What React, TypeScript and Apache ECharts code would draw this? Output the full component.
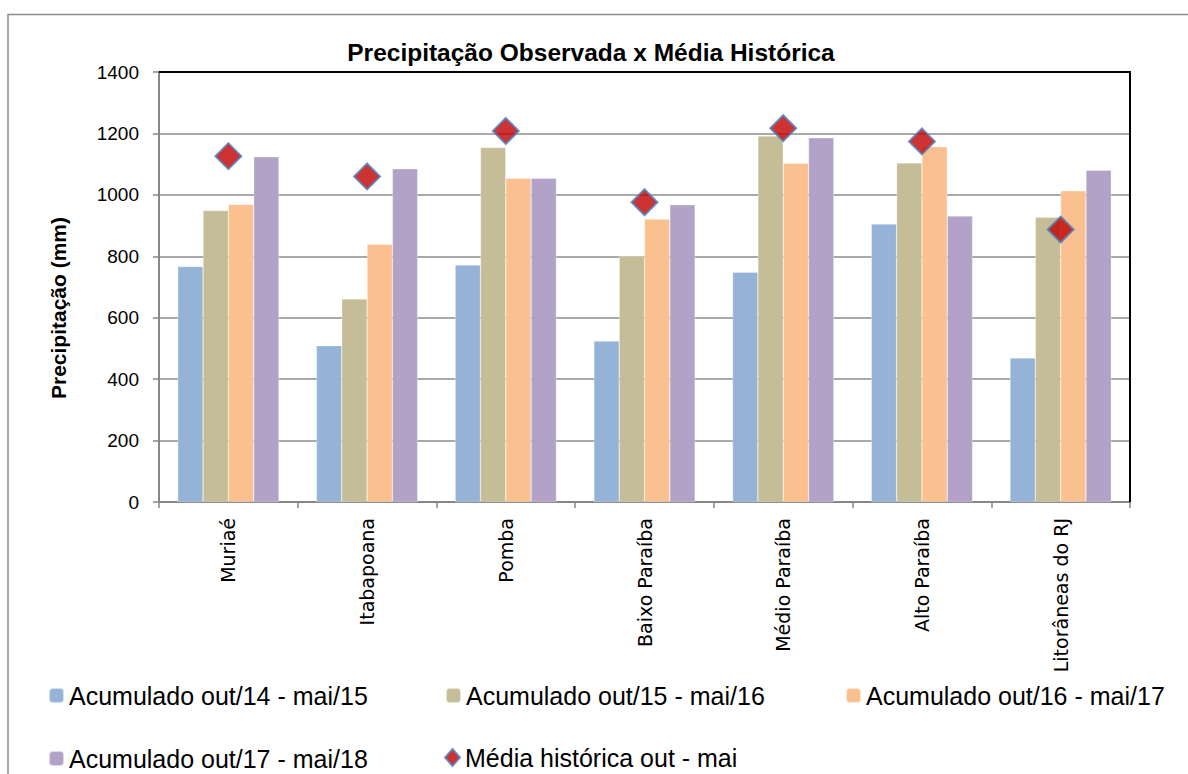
import React, { useEffect, useRef } from "react";
import * as echarts from "echarts";

const categories = [
  "Muriaé",
  "Itabapoana",
  "Pomba",
  "Baixo Paraíba",
  "Médio Paraíba",
  "Alto Paraíba",
  "Litorâneas do RJ",
];
const acum1415 = [767, 509, 772, 524, 748, 905, 469];
const acum1516 = [949, 661, 1154, 800, 1192, 1104, 927];
const acum1617 = [969, 839, 1054, 921, 1103, 1157, 1013];
const acum1718 = [1124, 1085, 1054, 968, 1186, 931, 1080];
const mediaHistorica = [1126, 1060, 1208, 976, 1217, 1174, 887];

const seriesNames = [
  "Acumulado out/14 - mai/15",
  "Acumulado out/15 - mai/16",
  "Acumulado out/16 - mai/17",
  "Acumulado out/17 - mai/18",
  "Média histórica out - mai",
];
const barColors = ["#95B3D7", "#C4BD97", "#FAC090", "#B3A2C7"];
const titleText = "Precipitação Observada x Média Histórica";
const yAxisTitle = "Precipitação (mm)";

const SANS = "'Liberation Sans', Arial, sans-serif";

export default function App() {
  const ref = useRef<HTMLDivElement>(null);
  useEffect(() => {
    const chart = echarts.init(ref.current as HTMLDivElement, null, { renderer: "svg" });
    const gridLeft = 159;
    const gridTop = 72;
    const gridRight = 1130;
    const gridBottom = 502;
    const barData = [acum1415, acum1516, acum1617, acum1718];

    const legendPos = [
      { left: 48, top: 683 },
      { left: 445, top: 683 },
      { left: 845, top: 683 },
      { left: 48, top: 746 },
      { left: 444, top: 745 },
    ];

    chart.setOption({
      animation: false,
      backgroundColor: "#ffffff",
      textStyle: { fontFamily: SANS, color: "#000" },
      grid: {
        left: gridLeft,
        top: gridTop,
        width: gridRight - gridLeft,
        height: gridBottom - gridTop,
        containLabel: false,
      },
      xAxis: {
        type: "category",
        data: categories,
        boundaryGap: true,
        axisLine: { lineStyle: { color: "#868686", width: 2 } },
        axisTick: { show: true, length: 6, lineStyle: { color: "#868686", width: 1.5 } },
        axisLabel: {
          rotate: 90,
          margin: 16,
          interval: 0,
          color: "#000",
          fontFamily: "'DejaVu Sans', sans-serif",
          fontSize: 19,
        },
        splitLine: { show: false },
      },
      yAxis: {
        type: "value",
        min: 0,
        max: 1400,
        interval: 200,
        axisLine: { show: true, lineStyle: { color: "#868686", width: 2 } },
        axisTick: { show: true, length: 6, lineStyle: { color: "#868686", width: 1.5 } },
        axisLabel: {
          margin: 20,
          color: "#000",
          fontFamily: SANS,
          fontSize: 19,
          formatter: (v: number) => String(v),
        },
        splitLine: { show: true, lineStyle: { color: "#8c8c8c", width: 1.5 } },
      },
      legend: seriesNames.map((n, i) => ({
        data: [n],
        left: legendPos[i].left,
        top: legendPos[i].top,
        orient: "horizontal",
        padding: 0,
        itemWidth: 15,
        itemHeight: i === 4 ? 17 : 15,
        selectedMode: false,
        textStyle: { fontFamily: SANS, fontSize: 25, color: "#000" },
      })),
      series: [
        ...barData.map((d, i) => ({
          name: seriesNames[i],
          type: "bar",
          data: d,
          barGap: "0%",
          barCategoryGap: "27%",
          itemStyle: { color: barColors[i], borderColor: "rgba(255,255,255,0.6)", borderWidth: 0.5 },
        })),
        {
          name: seriesNames[4],
          type: "scatter",
          data: mediaHistorica,
          symbol: "diamond",
          symbolSize: 26,
          z: 5,
          itemStyle: { color: "#C00000", borderColor: "#4F81BD", borderWidth: 2 },
        },
      ],
      graphic: [
        {
          type: "rect",
          silent: true,
          z: -1,
          shape: { x: 8, y: 14.5, width: 1400, height: 1000 },
          style: { fill: null, stroke: "#8c8c8c", lineWidth: 1.5 },
        },
        {
          type: "polyline",
          silent: true,
          z: 10,
          shape: { points: [[gridLeft, gridTop], [gridRight, gridTop], [gridRight, gridBottom]] },
          style: { fill: null, stroke: "#000", lineWidth: 2 },
        },
        {
          type: "text",
          x: 591,
          y: 52,
          style: {
            text: titleText,
            font: `bold 24.5px ${SANS}`,
            fill: "#000",
            align: "center",
            verticalAlign: "middle",
          },
        },
        {
          type: "text",
          x: 58,
          y: 308,
          rotation: Math.PI / 2,
          style: {
            text: yAxisTitle,
            font: `bold 21px ${SANS}`,
            fill: "#000",
            align: "center",
            verticalAlign: "middle",
          },
        },
      ],
    });
    return () => chart.dispose();
  }, []);
  return (
    <div
      ref={ref}
      style={{ position: "fixed", left: 0, top: 0, width: 1188, height: 774, background: "#fff" }}
    />
  );
}
